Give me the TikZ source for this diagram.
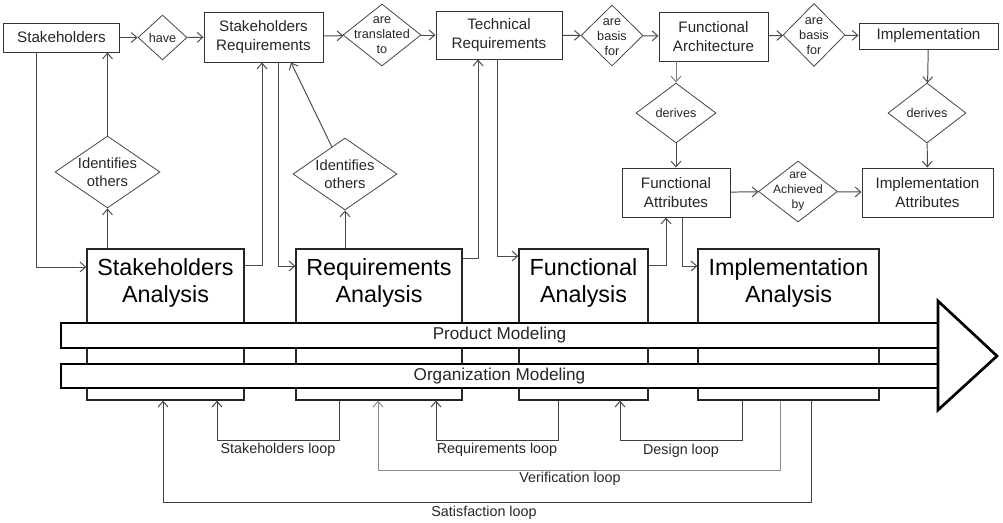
\documentclass[tikz,border=0pt]{standalone}
\usepackage{fontspec}
\setmainfont{Liberation Sans}
\usetikzlibrary{shapes.geometric,arrows.meta}
\newcommand{\pxu}{0.025cm}
\begin{document}
\begin{tikzpicture}[x=0.025cm, y=-0.025cm, >={Straight Barb[length=4pt,width=7pt]},
	every node/.style={text=black!85},
	sz/.style 2 args={minimum width=#1*\pxu, minimum height=#2*\pxu},
	box/.style={draw=black!80, line width=0.7pt, fill=white, inner sep=0pt, align=center, font=\fontsize{10.8}{13.2}\selectfont},
	dec/.style={diamond, draw=black!70, line width=0.6pt, inner sep=0pt, aspect=1},
	dectxt/.style={align=center, inner sep=0pt, font=\fontsize{9}{10.7}\selectfont},
	phase/.style={draw=black!85, line width=0.9pt, fill=white, inner sep=0pt},
	phasetxt/.style={align=center, text=black, font=\fontsize{16.6}{19.2}\selectfont},
	band/.style={draw=black, line width=1.9pt, fill=white, inner sep=0pt, font=\fontsize{12.2}{14}\selectfont},
	link/.style={->, draw=black!70, line width=0.7pt},
	loopline/.style={->, draw=black!75, line width=0.7pt},
	looptxt/.style={font=\fontsize{10.2}{12}\selectfont}]
	\useasboundingbox (0,0) rectangle (1003,522);

	%top row
	\node[box, sz={116}{29}] (sh) at (61.5,37.5) {Stakeholders};
	\node[dec, sz={49}{45}] (have) at (162.5,37.5) {};
	\node[box, sz={119}{50}] (shr) at (263.5,37) {Stakeholders\\Requirements};
	\node[dec, sz={78}{62}] (trans) at (382,35) {};
	\node[box, sz={126}{48}] (tr) at (499,35) {Technical\\Requirements};
	\node[dec, sz={62}{61}] (basisA) at (612,35.5) {};
	\node[box, sz={109}{49}] (farch) at (713.5,36.5) {Functional\\Architecture};
	\node[dec, sz={62}{63}] (basisB) at (814,35) {};
	\node[box, sz={139}{26}] (impl) at (928.5,36) {Implementation};
	\node[dectxt] (haveT) at (have) {have};
	\node[dectxt] (transT) at (trans) {are\\translated\\to};
	\node[dectxt] (basisAT) at (612,37) {are\\basis\\for};
	\node[dectxt] (basisBT) at (814,36) {are\\basis\\for};

	%attributes
	\node[dec, sz={80}{60}] (derA) at (676,113) {};
	\node[dec, sz={78}{60}] (derB) at (927,113) {};
	\node[box, sz={108}{49}] (fatt) at (676,192.5) {Functional\\Attributes};
	\node[dec, sz={79}{61}] (ach) at (798,191.5) {};
	\node[box, sz={131}{49}] (iatt) at (927.5,192.5) {Implementation\\Attributes};
	\node[dec, sz={105}{72}] (idA) at (107.5,172) {};
	\node[dec, sz={104}{72}] (idB) at (345,174) {};
	\node[dectxt] (derAT) at (derA) {derives};
	\node[dectxt] (derBT) at (derB) {derives};
	\node[dectxt, font=\fontsize{8.6}{10.7}\selectfont] (achT) at (ach) {are\\Achieved\\by};
	\node[dectxt, font=\fontsize{10.5}{12.8}\selectfont] (idAT) at (idA) {Identifies\\others};
	\node[dectxt, font=\fontsize{10.5}{12.8}\selectfont] (idBT) at (idB) {Identifies\\others};

	%analysis phases
	\node[phase, sz={157}{151}] (sa) at (165.5,324.5) {};
	\node[phase, sz={166}{151}] (ra) at (379,324.5) {};
	\node[phase, sz={129}{151}] (fan) at (583.5,324.5) {};
	\node[phase, sz={181}{151}] (ia) at (788.5,324.5) {};
	\node[phasetxt] (saT) at (165.5,283) {Stakeholders\\Analysis};
	\node[phasetxt] (raT) at (379,283) {Requirements\\Analysis};
	\node[phasetxt] (fanT) at (583.5,283) {Functional\\Analysis};
	\node[phasetxt] (iaT) at (788.5,283) {Implementation\\Analysis};

	%modeling arrow
	\node[band, sz={877}{25}] (prod) at (499.5,335.5) {Product Modeling};
	\node[band, sz={877}{24}] (org) at (499.5,376) {Organization Modeling};
	\draw[line width=1.9pt, fill=white, line join=miter] (938,301) -- (997,356) -- (938,410) -- cycle;

	%top row links
	\draw[link] (sh) -- (have);
	\draw[link] (have) -- (shr);
	\draw[link] (shr) -- (trans);
	\draw[link] (trans) -- (tr);
	\draw[link] (tr) -- (basisA);
	\draw[link] (basisA) -- (farch);
	\draw[link] (farch) -- (basisB);
	\draw[link] (basisB) -- (impl);
	\draw[link, draw=black!50] (derA |- farch.south) -- (derA);
	\draw[link] (derA) -- (fatt);
	\draw[link] (impl) -- (derB);
	\draw[link] (derB) -- (iatt);
	\draw[link] (fatt) -- (ach);
	\draw[link] (ach) -- (iatt);

	%identifies others
	\draw[link] (idA |- sa.north) -- (idA);
	\draw[link] (idA) -- (idA |- sh.south);
	\draw[link] (idB |- ra.north) -- (idB);
	\draw[link] (idB) -- (shr.south -| 291,0);

	%feeding the phases
	\draw[link] (sh.south -| 36,0) |- (sa.west |- 0,267);
	\draw[link] (sa.east |- 0,265) -| (shr.south -| 262,0);
	\draw[link] (shr.south -| 278,0) |- (ra.west |- 0,266);
	\draw[link] (ra.east |- 0,258) -| (tr.south -| 478,0);
	\draw[link] (tr.south -| 497,0) |- (fan.west |- 0,256);
	\draw[link] (fan.east |- 0,265) -| (fatt.south -| 666,0);
	\draw[link] (fatt.south -| 682,0) |- (ia.west |- 0,266);

	%loops
	\draw[loopline] (ra.south -| 339,0) -- ++(0,40) -| (sa.south -| 217,0);
	\node[looptxt] (lsh) at (278,450) {Stakeholders loop};
	\draw[loopline] (fan.south -| 558,0) -- ++(0,40) -| (ra.south -| 436,0);
	\node[looptxt] (lrq) at (497,450) {Requirements loop};
	\draw[loopline] (ia.south -| 742,0) -- ++(0,40) -| (fan.south -| 620,0);
	\node[looptxt] (lds) at (681,451) {Design loop};
	\draw[loopline, draw=black!45] (ia.south -| 780,0) -- ++(0,70) -| (ra.south -| 378,0);
	\node[looptxt] (lvf) at (570,479) {Verification loop};
	\draw[loopline] (ia.south -| 811,0) -- ++(0,102) -| (sa.south -| 163,0);
	\node[looptxt] (lsf) at (484,513) {Satisfaction loop};
\end{tikzpicture}
\end{document}
